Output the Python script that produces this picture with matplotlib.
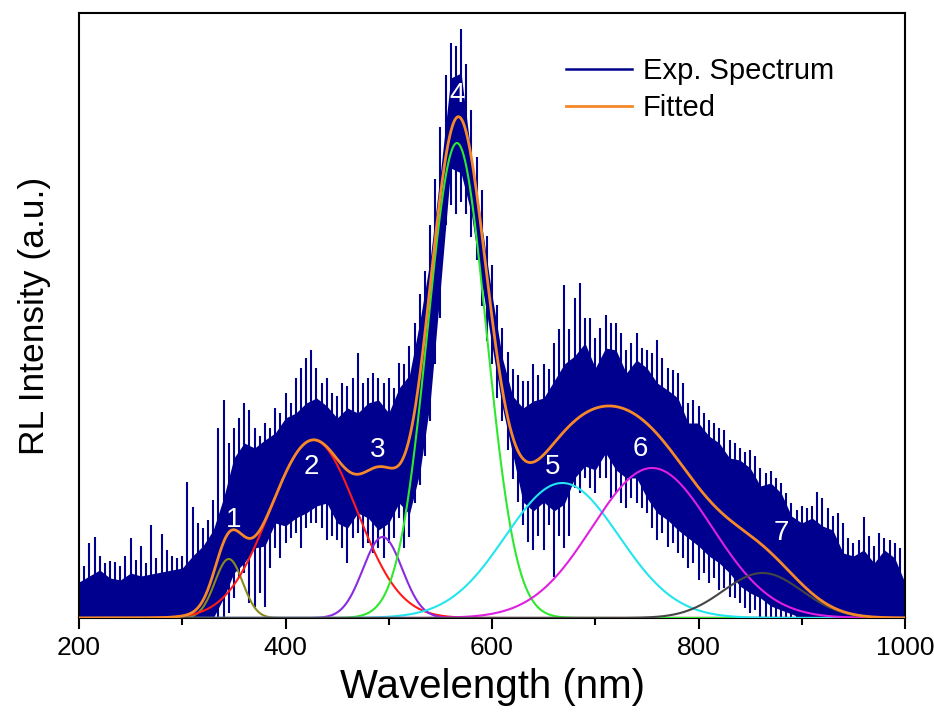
import numpy as np
import matplotlib
matplotlib.use("Agg")
import matplotlib.pyplot as plt

plt.rcParams['font.family'] = ['Liberation Sans', 'DejaVu Sans']

# ---------------- data (intensity in arbitrary units) ----------------
# dense core of the experimental spectrum, sampled every 10 nm
core_wl = list(range(200, 1001, 10))
core_hi = [36, 42, 48, 40, 38, 45, 42, 44, 46, 48, 50, 62, 72, 88, 120, 160, 175,
           170, 178, 185, 200, 205, 215, 220, 212, 200, 210, 205, 215, 218, 205,
           230, 243, 296, 358, 445, 540, 545, 461, 393, 323, 260, 222, 210, 217,
           220, 237, 254, 262, 275, 250, 270, 268, 245, 258, 250, 235, 228, 220,
           195, 195, 182, 175, 160, 158, 150, 132, 135, 125, 102, 95, 100, 92, 88,
           65, 62, 68, 55, 68, 60, 35]
core_lo = [0, 0, 0, 0, 0, 0, 0, 0, 0, 0, 0, 0, 0, 0, 20, 45, 55, 70, 72, 95, 92,
           100, 105, 112, 115, 95, 90, 105, 100, 88, 95, 115, 104, 145, 215, 330,
           450, 445, 404, 335, 272, 211, 164, 116, 107, 116, 107, 114, 140, 152,
           148, 165, 148, 140, 140, 120, 105, 98, 88, 80, 72, 62, 55, 45, 32, 25,
           20, 12, 8, 4, 0, 0, 0, 0, 0, 0, 0, 0, 0, 0, 0]

# noise extremes of the experimental spectrum, every 5 nm
spk_wl = list(range(200, 1001, 5))
spk_hi = [50, 52, 75, 81, 62, 55, 57, 56, 52, 62, 80, 58, 72, 55, 93, 60, 84, 68,
          62, 60, 62, 136, 111, 95, 90, 98, 118, 190, 218, 175, 190, 200, 215, 208,
          190, 182, 195, 190, 210, 205, 225, 215, 240, 250, 260, 268, 250, 235, 240,
          225, 222, 235, 232, 240, 265, 235, 240, 245, 240, 235, 240, 230, 255, 254,
          272, 295, 324, 347, 393, 439, 491, 543, 575, 572, 589, 554, 508, 461, 428,
          382, 353, 313, 290, 266, 249, 243, 237, 237, 254, 243, 254, 249, 275, 289,
          333, 289, 320, 335, 300, 300, 280, 290, 303, 295, 295, 285, 268, 275, 285,
          270, 268, 265, 278, 260, 250, 248, 245, 235, 215, 218, 212, 205, 198, 195,
          190, 188, 178, 175, 170, 166, 168, 162, 150, 145, 147, 140, 135, 125, 115,
          108, 112, 110, 112, 126, 120, 110, 102, 105, 95, 80, 75, 78, 101, 82, 72,
          85, 80, 78, 75, 70, 45]
spk_lo = [0] * 29 + [5, 20, 40, 45, 15, 11, 25, 11, 50, 70, 60, 75, 80, 85, 70,
          90, 95, 95, 90, 78, 82, 78, 70, 55, 80, 85, 70, 75, 65, 70, 60, 75, 80,
          100, 70, 81, 115, 133, 162, 197, 254, 300, 393, 413, 404, 416, 404, 381,
          358, 312, 277, 254, 220, 197, 168, 139, 116, 93, 76, 68, 82, 68, 93,
          41, 82, 70, 82, 130, 125, 140, 130, 125, 140, 140, 120, 125, 115, 110,
          120, 115, 110, 105, 90, 78, 85, 71, 75, 65, 60, 50, 55, 38, 45, 35, 40,
          28, 30, 21, 20, 15, 10, 5, 8] + [0] * 29

# Gaussian fit components 1..7 (center nm, sigma nm, height a.u.)
comp_center = [345, 427, 494, 566, 668, 755, 862]
comp_sigma = [13.5, 42, 19, 28.5, 55, 58, 38]
comp_height = [59, 178, 81, 475, 135, 150, 45]
comp_colors = ['#8a8a1a', '#ff1a1a', '#8a2be2', '#2ee82e', '#22e5ee', '#e020e0', '#454545']
comp_labels = ['1', '2', '3', '4', '5', '6', '7']
label_wl = [350, 425, 489, 566, 659, 744, 880]
label_h = [98, 151, 168, 523, 151, 169, 85]

# ---------------- figure ----------------
fig = plt.figure(figsize=(9.34, 7.18), dpi=100)
ax = fig.add_axes([0.0846, 0.1393, 0.8844, 0.8426])

navy = '#00008f'
ax.fill_between(core_wl, core_lo, core_hi, color=navy, lw=0, zorder=1)
ax.vlines(spk_wl, spk_lo, spk_hi, color=navy, lw=1.5, zorder=1)
ax.plot([], [], color=navy, lw=1.8, label='Exp. Spectrum')

x = np.linspace(200, 1000, 1601)
total = np.zeros_like(x)
for c, s, h, col in zip(comp_center, comp_sigma, comp_height, comp_colors):
    y = h * np.exp(-(x - c) ** 2 / (2 * s ** 2))
    total += y
    ax.plot(x, y, color=col, lw=1.5, zorder=3)

ax.plot(x, total, color='#f5892a', lw=2.0, zorder=4, label='Fitted')

for t, xw, yh in zip(comp_labels, label_wl, label_h):
    ax.text(xw, yh, t, color='white', fontsize=20, ha='center', va='center', zorder=5)

ax.set_xlim(200, 1000)
ax.set_ylim(0, 605)
ax.set_xticks([200, 400, 600, 800, 1000])
ax.set_xticks([300, 500, 700, 900], minor=True)
ax.set_yticks([])
ax.tick_params(axis='x', which='major', direction='out', length=8, width=1.5,
               labelsize=19, pad=5)
ax.tick_params(axis='x', which='minor', direction='out', length=5, width=1.5)
for sp in ax.spines.values():
    sp.set_linewidth(1.5)

ax.set_xlabel('Wavelength (nm)', fontsize=29, labelpad=6)
ax.set_ylabel('RL Intensity (a.u.)', fontsize=25.5, labelpad=20)

ax.legend(loc='upper left', bbox_to_anchor=(0.5896, 0.927), frameon=False,
          fontsize=21, borderpad=0, borderaxespad=0, handlelength=2.26,
          handletextpad=0.38, labelspacing=0.3)

fig.savefig('out.png', dpi=100)
